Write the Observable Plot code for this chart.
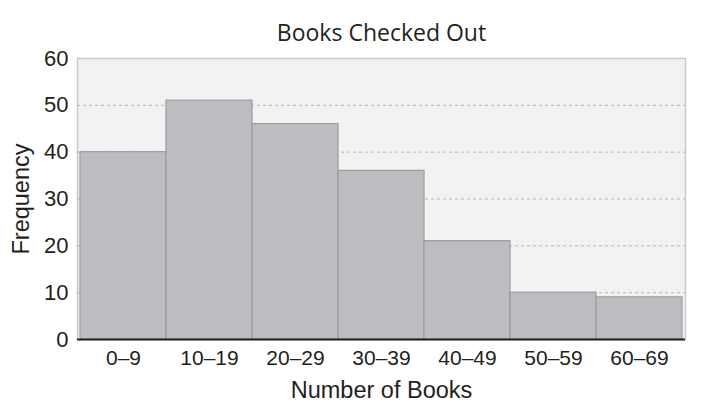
<!DOCTYPE html>
<html>
<head>
<meta charset="utf-8">
<script src="https://cdn.jsdelivr.net/npm/d3@7"></script>
<script src="https://cdn.jsdelivr.net/npm/@observablehq/plot@0.6"></script>
<style>
  html, body { margin: 0; padding: 0; background: #ffffff; }
</style>
</head>
<body>
<div id="chart"></div>
<script>
const categories = ["0–9", "10–19", "20–29", "30–39", "40–49", "50–59", "60–69"];
const frequencies = [40, 51, 46, 36, 21, 10, 9];
const yTicks = [0, 10, 20, 30, 40, 50, 60];
const gridTicks = [10, 20, 30, 40, 50];
const title = "Books Checked Out";
const xLabel = "Number of Books";
const yLabel = "Frequency";

const data = categories.map((c, i) => ({category: c, value: frequencies[i]}));

const chart = Plot.plot({
  width: 707,
  height: 415,
  marginLeft: 77,
  marginRight: 22,
  marginTop: 58,
  marginBottom: 76,
  style: {fontFamily: "'Liberation Sans', Arial, sans-serif", background: "#ffffff", color: "#231f20"},
  x: {type: "band", domain: categories, padding: 0, label: null},
  y: {domain: [0, 60], ticks: yTicks, label: null},
  marks: [
    Plot.frame({fill: "#f2f2f2", stroke: "#c9c9c9", strokeWidth: 1.5}),
    Plot.ruleY(gridTicks, {stroke: "#b5b5b5", strokeDasharray: "3,3", strokeWidth: 1}),
    Plot.barY(data, {x: "category", y: "value", fill: "#bcbdc0", stroke: "#9b9c9f", strokeWidth: 1.2}),
    Plot.axisY({ticks: yTicks, tickSize: 0, tickPadding: 9, fontSize: 22, fill: "#231f20", label: null}),
    Plot.axisX({tickSize: 0, tickPadding: 11, fontSize: 21, fill: "#231f20", label: null}),
    Plot.ruleX([0], {x: () => 0, stroke: "#231f20", strokeWidth: 2.5, frameAnchor: "left"}),
    Plot.ruleY([0], {stroke: "#231f20", strokeWidth: 2}),
    Plot.text([title], {frameAnchor: "top", dy: -25, fontSize: 23, fill: "#231f20", fontFamily: "'Open Sans', sans-serif", textAnchor: "middle", lineAnchor: "middle"}),
    Plot.text([xLabel], {frameAnchor: "bottom", dy: 51, fontSize: 23.5, fill: "#231f20", textAnchor: "middle", lineAnchor: "middle"}),
    Plot.text([yLabel], {frameAnchor: "left", dx: -56, rotate: -90, fontSize: 23.5, fill: "#231f20", textAnchor: "middle", lineAnchor: "middle"})
  ]
});
document.getElementById("chart").appendChild(chart);
</script>
</body>
</html>
